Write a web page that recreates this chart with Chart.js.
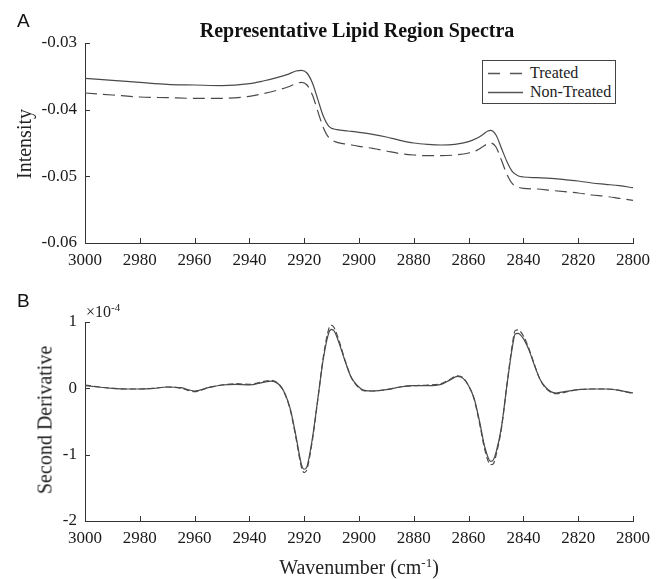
<!DOCTYPE html>
<html>
<head>
<meta charset="utf-8">
<script src="https://cdn.jsdelivr.net/npm/chart.js@4.4.1/dist/chart.umd.min.js"></script>
<style>
  html, body { margin:0; padding:0; background:#fff; }
  #wrap { position:relative; width:657px; height:579px; overflow:hidden; font-family:"Liberation Serif","Times New Roman",serif; color:#222; }
  canvas { position:absolute; left:0; }
  .txt { position:absolute; white-space:nowrap; }
  .panel { font-family:"Liberation Sans",Arial,sans-serif; font-size:19px; color:#111; }
  .rot { transform:translate(-50%,-50%) rotate(-90deg); font-size:20px; }
  #legend { position:absolute; left:482px; top:60px; width:134px; height:44px; border:1px solid #444; box-sizing:border-box; background:#fff; font-size:16px; }
  .lrow { position:absolute; left:0; height:20px; width:100%; }
  .lsvg { position:absolute; left:5px; top:0; }
  .ltxt { position:absolute; left:47px; top:0; line-height:20px; }
</style>
</head>
<body>
<div id="wrap">
  <canvas id="cA" width="657" height="280" style="top:0"></canvas>
  <canvas id="cB" width="657" height="299" style="top:280px"></canvas>
  <div class="txt panel" style="left:17px;top:10px;">A</div>
  <div class="txt panel" style="left:17px;top:290px;">B</div>
  <div class="txt" id="title" style="left:357px;top:30px;transform:translate(-50%,-50%);font-weight:bold;font-size:20px;color:#111;">Representative Lipid Region Spectra</div>
  <div class="txt rot" style="left:24px;top:144px;">Intensity</div>
  <div class="txt rot" style="left:45px;top:420px;">Second Derivative</div>
  <div class="txt" style="left:359px;top:567px;transform:translate(-50%,-50%);font-size:20px;">Wavenumber (cm<sup style="font-size:13px;">-1</sup>)</div>
  <div class="txt" style="left:86px;top:301px;font-size:16px;">&times;10<sup style="font-size:11px;">-4</sup></div>
  <div id="legend">
    <div class="lrow" style="top:2px;"><svg class="lsvg" width="36" height="20"><line x1="0" y1="10.5" x2="35" y2="10.5" stroke="#555" stroke-width="1.3" stroke-dasharray="12,10"/></svg><div class="ltxt">Treated</div></div>
    <div class="lrow" style="top:21px;"><svg class="lsvg" width="36" height="20"><line x1="0" y1="10.5" x2="35" y2="10.5" stroke="#555" stroke-width="1.3"/></svg><div class="ltxt">Non-Treated</div></div>
  </div>
</div>
<script>
// ---------- Data ----------
const xTicks = [3000, 2980, 2960, 2940, 2920, 2900, 2880, 2860, 2840, 2820, 2800];
const yTicksA = [-0.06, -0.05, -0.04, -0.03];
const yTicksB = [-2, -1, 0, 1];

// Panel A: raw spectra (wavenumber, cm^-1)
const wavenumbersA = [3000, 2990, 2980, 2970, 2960, 2950, 2940, 2935, 2930, 2926, 2923, 2921, 2919, 2917, 2915, 2913, 2911, 2908, 2904, 2900, 2895, 2890, 2885, 2880, 2875, 2870, 2865, 2860, 2857, 2855, 2853, 2852, 2850, 2848, 2846, 2844, 2842, 2840, 2835, 2830, 2825, 2820, 2815, 2810, 2805, 2800];
const nonTreatedA = [-0.0353, -0.0356, -0.0359, -0.0362, -0.0363, -0.0364, -0.0361, -0.0357, -0.0352, -0.0347, -0.0342, -0.0341, -0.0345, -0.0360, -0.0385, -0.0410, -0.0425, -0.0430, -0.0432, -0.0434, -0.0437, -0.0441, -0.0446, -0.0450, -0.0452, -0.0453, -0.0452, -0.0448, -0.0443, -0.0438, -0.0432, -0.0431, -0.0438, -0.0458, -0.0478, -0.0493, -0.0499, -0.0501, -0.0502, -0.0503, -0.0505, -0.0507, -0.0510, -0.0512, -0.0514, -0.0517];
const treatedA = [-0.0375, -0.0378, -0.0381, -0.0382, -0.0383, -0.0383, -0.0380, -0.0376, -0.0371, -0.0366, -0.0361, -0.0359, -0.0363, -0.0378, -0.0403, -0.0427, -0.0442, -0.0449, -0.0452, -0.0455, -0.0458, -0.0462, -0.0466, -0.0468, -0.0469, -0.0469, -0.0468, -0.0465, -0.0461, -0.0456, -0.0451, -0.0450, -0.0456, -0.0476, -0.0497, -0.0511, -0.0516, -0.0518, -0.0519, -0.0521, -0.0523, -0.0525, -0.0528, -0.0530, -0.0533, -0.0536];

// Panel B: second derivative (x 1e-4)
const wavenumbersB = [3000, 2995, 2990, 2985, 2980, 2975, 2970, 2965, 2960, 2955, 2950, 2945, 2940, 2935, 2932, 2929, 2927, 2925, 2923, 2921, 2920, 2919, 2917, 2915, 2913, 2911, 2910, 2909, 2907, 2905, 2903, 2901, 2898, 2895, 2890, 2885, 2880, 2875, 2870, 2867, 2864, 2862, 2860, 2858, 2856, 2854, 2852, 2851, 2850, 2848, 2846, 2844, 2843, 2842, 2840, 2838, 2836, 2834, 2832, 2830, 2828, 2825, 2820, 2815, 2810, 2805, 2800];
const nonTreatedB = [0.04, 0.02, 0.00, -0.01, -0.01, 0.00, 0.02, 0.01, -0.04, 0.01, 0.05, 0.06, 0.05, 0.09, 0.11, 0.05, -0.08, -0.32, -0.72, -1.15, -1.22, -1.18, -0.75, -0.15, 0.45, 0.84, 0.89, 0.86, 0.65, 0.40, 0.18, 0.06, -0.03, -0.04, -0.02, 0.02, 0.04, 0.04, 0.06, 0.12, 0.18, 0.15, 0.04, -0.15, -0.50, -0.90, -1.10, -1.08, -0.97, -0.58, 0.05, 0.63, 0.82, 0.83, 0.75, 0.58, 0.35, 0.14, 0.02, -0.05, -0.07, -0.05, -0.02, -0.01, -0.01, -0.03, -0.07];
const treatedB = [0.05, 0.02, 0.00, -0.01, -0.01, 0.00, 0.02, 0.00, -0.05, 0.01, 0.05, 0.07, 0.06, 0.10, 0.12, 0.05, -0.09, -0.34, -0.75, -1.19, -1.27, -1.22, -0.78, -0.16, 0.48, 0.90, 0.95, 0.91, 0.68, 0.41, 0.18, 0.05, -0.04, -0.04, -0.02, 0.02, 0.04, 0.05, 0.07, 0.13, 0.19, 0.16, 0.04, -0.16, -0.53, -0.94, -1.15, -1.14, -1.01, -0.60, 0.06, 0.67, 0.87, 0.88, 0.79, 0.60, 0.36, 0.14, 0.01, -0.06, -0.08, -0.06, -0.02, -0.01, -0.01, -0.03, -0.08];

// ---------- Helpers ----------
const lineColor = '#4a4a4a';
const tickFont = { family: "'Liberation Serif','Times New Roman',serif", size: 17 };

function pts(xs, ys) { return xs.map((x, i) => ({ x: x, y: ys[i] })); }

const inwardTicks = {
  id: 'inwardTicks',
  afterDraw(chart) {
    const ctx = chart.ctx, a = chart.chartArea;
    const xs = chart.scales.x, ys = chart.scales.y;
    ctx.save();
    ctx.strokeStyle = '#333';
    ctx.lineWidth = 1;
    ctx.beginPath();
    xs.ticks.forEach(t => {
      const px = Math.round(xs.getPixelForValue(t.value)) + 0.5;
      ctx.moveTo(px, a.bottom); ctx.lineTo(px, a.bottom - 5);
    });
    ys.ticks.forEach(t => {
      const py = Math.round(ys.getPixelForValue(t.value)) + 0.5;
      ctx.moveTo(a.left, py); ctx.lineTo(a.left + 5, py);
    });
    ctx.stroke();
    ctx.restore();
  }
};

function makeChart(id, datasets, yMin, yMax, yTicks, padTop, xHeight, fmt) {
  return new Chart(document.getElementById(id), {
    type: 'line',
    data: { datasets: datasets },
    options: {
      responsive: false, animation: false, devicePixelRatio: 1,
      layout: { padding: { left: 0, right: 22, top: padTop, bottom: 0 } },
      plugins: { legend: { display: false }, tooltip: { enabled: false }, title: { display: false } },
      elements: { point: { radius: 0 }, line: { borderWidth: 1.2, cubicInterpolationMode: 'monotone' } },
      scales: {
        x: {
          type: 'linear', reverse: true, min: 2800, max: 3000,
          afterBuildTicks: s => { s.ticks = xTicks.map(v => ({ value: v })); },
          afterFit: s => { s.height = xHeight; },
          grid: { drawOnChartArea: false, drawTicks: false },
          border: { display: true, color: '#333', width: 1 },
          ticks: { padding: 7, font: tickFont, color: '#1a1a1a', maxRotation: 0, autoSkip: false, callback: v => String(v) }
        },
        y: {
          type: 'linear', min: yMin, max: yMax,
          afterBuildTicks: s => { s.ticks = yTicks.map(v => ({ value: v })); },
          afterFit: s => { s.width = 85; },
          grid: { drawOnChartArea: false, drawTicks: false },
          border: { display: true, color: '#333', width: 1 },
          ticks: { padding: 8, font: tickFont, color: '#1a1a1a', callback: fmt }
        }
      }
    },
    plugins: [inwardTicks]
  });
}

makeChart('cA', [
  { label: 'Treated', data: pts(wavenumbersA, treatedA), borderColor: lineColor, borderDash: [12, 6], fill: false },
  { label: 'Non-Treated', data: pts(wavenumbersA, nonTreatedA), borderColor: lineColor, fill: false }
], -0.06, -0.03, yTicksA, 43, 37, v => v.toFixed(2));

makeChart('cB', [
  { label: 'Treated', data: pts(wavenumbersB, treatedB), borderColor: lineColor, borderDash: [6, 3], fill: false },
  { label: 'Non-Treated', data: pts(wavenumbersB, nonTreatedB), borderColor: lineColor, fill: false }
], -2, 1, yTicksB, 42, 58, v => String(v));
</script>
</body>
</html>
